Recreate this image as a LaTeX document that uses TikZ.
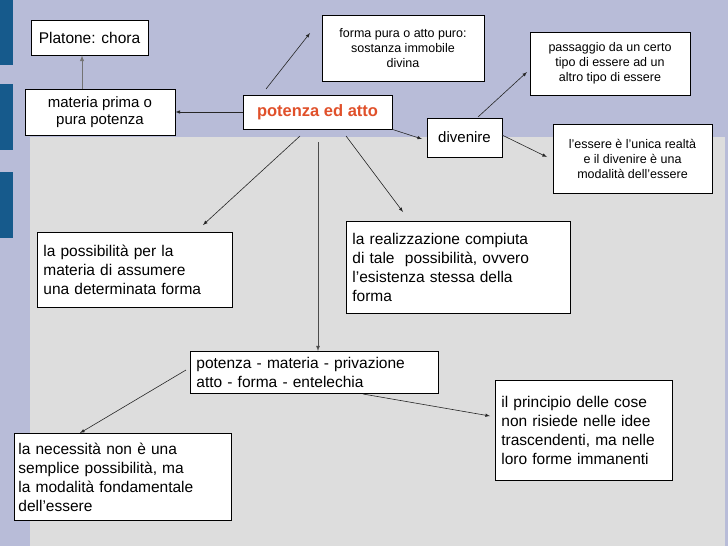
\documentclass[tikz,border=0pt]{standalone}
\usepackage{fontspec}
\setmainfont{Liberation Sans}
\begin{document}
\begin{tikzpicture}[x=1pt,y=-1pt,
  box/.style={draw=black,fill=white,line width=0.8pt,inner sep=3pt,font=\fontsize{14}{17}\selectfont},
  lbox/.style={box,align=left,anchor=north west,inner xsep=6pt,inner ysep=3pt,font=\fontsize{15.5}{19}\selectfont},
  cbox/.style={box,align=center},
  arr/.style={-latex,line width=0.6pt,black!85},
  garr/.style={-latex,line width=1pt,black!55}]
\useasboundingbox (0,0) rectangle (728,546);
\fill[fill={rgb,255:red,184;green,188;blue,216}] (0,0) rectangle (728,546);
\fill[fill={rgb,255:red,221;green,221;blue,221}] (30,137) rectangle (725,546);
\foreach \a/\b in {0/65,84/150,172/238}
  \fill[fill={rgb,255:red,22;green,90;blue,140}] (0,\a) rectangle (13,\b);
% boxes
\node[cbox,minimum width=117,minimum height=35,font=\fontsize{15.5}{17}\selectfont] (pla) at (89.5,37.5) {Platone: chora};
\node[cbox,minimum width=150,minimum height=46,font=\fontsize{15}{17}\selectfont] (mat) at (100,112) {materia prima o\\pura potenza};
\node[cbox,minimum width=149,minimum height=34,font=\fontsize{16.5}{18}\selectfont\bfseries,text={rgb,255:red,224;green,80;blue,42}] (pot) at (317.5,112) {potenza ed atto};
\node[cbox,minimum width=162,minimum height=66,font=\fontsize{12.5}{15}\selectfont] (for) at (403,48) {forma pura o atto puro:\\sostanza immobile\\divina};
\node[cbox,minimum width=75,minimum height=39,font=\fontsize{15}{17}\selectfont] (div) at (464.5,137.5) {divenire};
\node[cbox,minimum width=160,minimum height=63,font=\fontsize{12.5}{15}\selectfont] (pas) at (610,63.5) {passaggio da un certo\\tipo di essere ad un\\altro tipo di essere};
\node[cbox,minimum width=159,minimum height=69,font=\fontsize{12.5}{15}\selectfont] (ess) at (632.5,158.5) {l’essere è l’unica realtà\\e il divenire è una\\modalità dell’essere};
\node[lbox,text width=183,minimum height=75] (pos) at (37,232) {la possibilità per la\\materia di assumere\\una determinata forma};
\node[lbox,text width=212,minimum height=92] (rea) at (346,221) {la realizzazione compiuta\\di tale\ \ possibilità, ovvero\\l’esistenza stessa della\\forma};
\node[lbox,text width=236,minimum height=42,inner ysep=1pt] (pmp) at (190,351) {potenza - materia - privazione\\atto - forma - entelechia};
\node[lbox,text width=165,minimum height=100] (pri) at (495,380) {il principio delle cose\\non risiede nelle idee\\trascendenti, ma nelle\\loro forme immanenti};
\node[lbox,text width=209,minimum height=87,inner xsep=4pt] (nec) at (14,433) {la necessità non è una\\semplice possibilità, ma\\la modalità fondamentale\\dell’essere};
% connectors
\draw[garr] (mat.north -| 82,0) -- (pla.south -| 82,0);
\draw[arr] (pot.west) -- (mat.east);
\draw[arr] (266,89) -- (310,33);
\draw[arr] (pot.south east) -- (422,139);
\draw[arr] (478,117) -- (527,72);
\draw[arr] (502,135) -- (547,157);
\draw[arr] (300,136) -- (203,225);
\draw[arr,black!70,line width=0.8pt] (318,142) -- (pmp.north -| 318,0);
\draw[arr] (346,136) -- (403,212);
\draw[arr] (186,370) -- (80,433);
\draw[arr] (363,394) -- (490,416);
\end{tikzpicture}
\end{document}
